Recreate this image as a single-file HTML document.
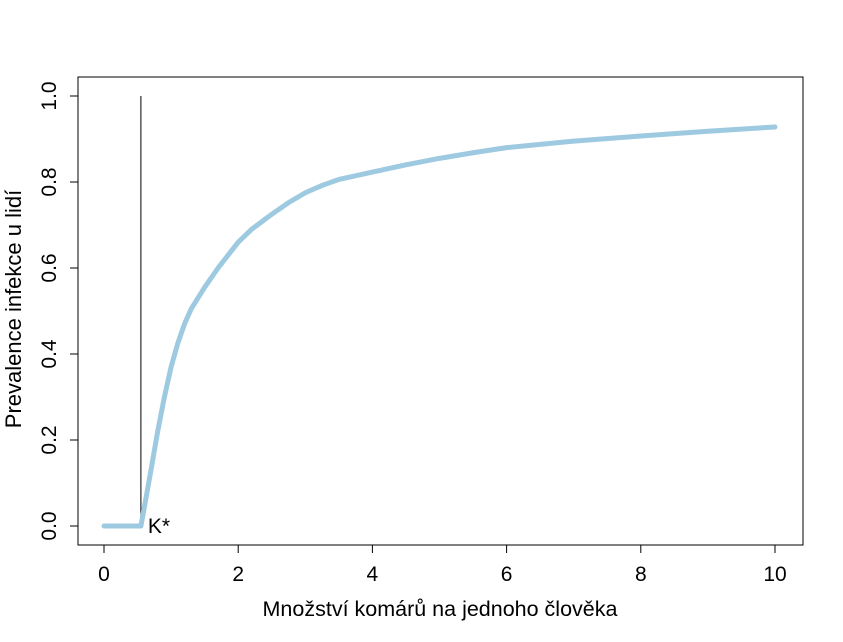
<!DOCTYPE html>
<html><head><meta charset="utf-8"><style>
html,body{margin:0;padding:0;background:#fff;}
svg{display:block;font-family:"Liberation Sans",sans-serif;}
</style></head><body>
<svg id="chart" width="843" height="642">
<rect x="78" y="77" width="725" height="468" fill="none" stroke="#000" stroke-width="1"/>
<g id="xaxis"></g>
<g id="yaxis"></g>
<g id="marks"></g>
<text x="440" y="616" text-anchor="middle" font-size="21.5">Množství komárů na jednoho člověka</text>
<text transform="translate(21,309) rotate(-90)" text-anchor="middle" font-size="22">Prevalence infekce u lidí</text>
</svg>
<script>
const xs = [0, 0.55, 0.62, 0.7, 0.8, 0.9, 1.0, 1.1, 1.2, 1.3, 1.5, 1.7, 1.85, 2, 2.2, 2.5, 2.75, 3, 3.25, 3.5, 4, 4.5, 5, 5.5, 6, 7, 8, 9, 10];
const ys = [0, 0, 0.06, 0.13, 0.22, 0.30, 0.37, 0.425, 0.47, 0.505, 0.555, 0.60, 0.63, 0.66, 0.69, 0.725, 0.752, 0.775, 0.792, 0.806, 0.823, 0.84, 0.855, 0.868, 0.88, 0.895, 0.907, 0.918, 0.928];
const kStar = 0.55;
const xTicks = [0, 2, 4, 6, 8, 10];
const yTicks = [0, 0.2, 0.4, 0.6, 0.8, 1.0];
const yTickLabels = ["0.0", "0.2", "0.4", "0.6", "0.8", "1.0"];
const NS = "http://www.w3.org/2000/svg";
const X = v => 104 + v * 67.1;
const Y = v => 526 - v * 430;
function mk(tag, attrs, parent) { const e = document.createElementNS(NS, tag); for (const k in attrs) e.setAttribute(k, attrs[k]); parent.appendChild(e); return e; }
const xa = document.getElementById('xaxis'), ya = document.getElementById('yaxis'), mg = document.getElementById('marks');
mk('line', {x1: X(0), x2: X(10), y1: 545, y2: 545, stroke: '#000'}, xa);
xTicks.forEach(t => {
  const l = mk('line', {x1: X(t), x2: X(t), y1: 545, y2: 553, stroke: '#000'}, xa);
  
  
  const tx = mk('text', {x: X(t), y: 581, 'text-anchor': 'middle', 'font-size': 21}, xa);
  tx.textContent = t;
  
  
});
mk('line', {x1: 78, x2: 78, y1: Y(0), y2: Y(1), stroke: '#000'}, ya);
yTicks.forEach((t, i) => {
  const l = mk('line', {x1: 70, x2: 78, y1: Y(t), y2: Y(t), stroke: '#000'}, ya);
  
  
  const tx = mk('text', {x: 0, y: 0, 'text-anchor': 'middle', 'font-size': 21, transform: `translate(56,${Y(t)}) rotate(-90)`}, ya);
  tx.textContent = yTickLabels[i];
  
  
});
const vl = mk('line', {x1: X(kStar), x2: X(kStar), y1: Y(0), y2: Y(1), stroke: '#000', 'stroke-width': 1}, mg);


const p = mk('polyline', {points: xs.map((x, i) => X(x) + ',' + Y(ys[i])).join(' '), fill: 'none', stroke: '#9ecae1', 'stroke-width': 5, 'stroke-linejoin': 'round', 'stroke-linecap': 'round'}, mg);


const kt = mk('text', {x: X(kStar) + 7, y: Y(0) + 7, 'font-size': 21}, mg);
kt.textContent = 'K*';


</script>
</body></html>
